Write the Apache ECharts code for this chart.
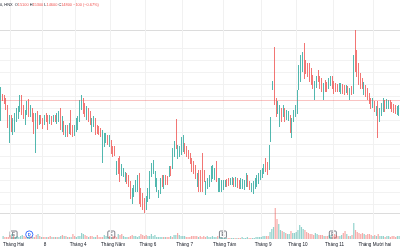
<!DOCTYPE html>
<html><head><meta charset="utf-8">
<script src="https://cdn.jsdelivr.net/npm/echarts@6/dist/echarts.min.js"></script>
<style>html,body{margin:0;padding:0;background:#fff}#c{width:400px;height:250px}</style>
</head><body><div id="c"></div>
<script>
const opens=[14400,14880,14860,14800,14640,14100,14460,14140,14200,14400,
14460,14600,14860,14660,14340,14540,14800,14500,14600,14500,
14300,14540,14340,14460,14400,14340,14500,14460,14360,14440,
14400,14460,14360,14400,14600,14200,14340,14100,14260,14160,
14560,14260,14120,14200,14240,14400,14640,14800,14700,14440,
14600,14540,14200,14300,14400,14260,14240,14200,14000,13900,
13980,14060,13900,13960,13840,13840,13340,13600,13640,13320,
13300,13200,13300,13260,13140,12760,12900,13000,13000,13300,
13000,12900,12800,12640,12800,12860,13300,13360,13100,13000,
12880,12960,13260,13060,13260,13240,13300,13440,13460,13700,
14400,13660,13700,13740,13800,13900,13840,13760,13700,13600,
13540,13460,13100,13360,13300,13400,13360,12940,13060,13100,
13200,13260,13240,13540,13000,13000,13000,13040,13100,13180,
13200,13140,13140,13200,13100,13200,13160,13060,13060,13040,
13100,13260,13140,13000,12960,13060,13100,13160,13240,13280,
13360,13600,13520,13440,14000,15040,15360,14800,14560,14300,
14600,14500,14600,14440,14420,14460,14200,14400,14500,14560,
15040,15200,15400,15900,15560,15500,15500,15400,15260,14900,
15080,15360,15240,15200,14840,15160,15120,15060,15120,15240,
15140,15100,15080,15000,14960,15080,15060,14980,15040,14900,
15040,14960,15700,15760,15500,15300,15200,14940,15060,15000,
14900,14800,14680,14740,14520,14740,14400,14520,14600,14760,
14660,14660,14760,14720,14680,14660,14540,14520];
const closes=[14840,14800,14760,14640,14300,14400,14200,14400,14500,14600,
14640,14860,14540,14460,14560,14740,14500,14660,14400,14160,
14500,14260,14460,14360,14260,14460,14400,14240,14460,14340,
14460,14400,14500,14540,14240,14440,14140,14260,14140,14300,
14140,14100,14260,14400,14440,14700,14880,14560,14500,14640,
14400,14340,14400,14440,14140,14160,14140,14100,14160,14100,
14100,13940,14060,13760,13700,13720,13540,13360,13260,13480,
13400,13320,13160,13100,12860,13000,13060,13160,13260,12760,
12700,12640,12560,12840,13000,13340,13440,13540,13340,13200,
12960,13200,13100,13260,13140,13140,13440,13320,13800,13940,
13860,13860,13840,13940,14000,13760,13700,13660,13560,13400,
13360,13260,13300,13000,13160,13200,13200,13140,13200,13260,
13440,13440,13400,13200,13200,13200,13160,13160,13160,13100,
13120,13200,13220,13100,13220,13080,13060,13200,13180,13160,
13300,13100,13040,13100,13140,13200,13260,13300,13360,13400,
13480,13400,13340,13860,14400,15140,14740,14600,14740,14660,
14400,14660,14400,14560,14540,14200,14400,14560,14660,14960,
15360,15600,15700,15260,15360,15300,15200,15140,15060,15140,
15240,15200,15060,15000,15100,15000,15000,15200,15240,15060,
14960,15000,15000,15100,15100,14960,14940,15060,14940,15000,
14940,15660,15400,15300,15140,15060,15060,15120,14900,14840,
14760,14660,14800,14600,14640,14400,14600,14700,14800,14600,
14780,14760,14660,14600,14580,14560,14640,14660];
const lows=[14380,14780,14720,14600,14240,13940,14160,14100,14160,14360,
14420,14560,14500,14420,14300,14500,14460,14460,14360,14120,
13740,14220,14300,14320,14220,14300,14360,14200,14320,14300,
14360,14360,14320,14360,14200,14160,14100,14060,14060,14120,
14100,14060,14080,14160,14200,14360,14600,14520,14460,14400,
14360,14300,14160,14260,14100,14120,14100,14060,13540,13860,
13940,13900,13860,13720,13660,13680,13300,13320,13160,13280,
13260,13160,13120,13060,12820,12720,12860,12960,12960,12720,
12660,12600,12540,12600,12760,12820,13260,13320,13060,12960,
12840,12920,13060,13020,13100,13100,13260,13280,13420,13660,
13820,13620,13660,13700,13760,13720,13660,13620,13520,13360,
13320,13220,13060,12960,12960,12960,13160,12900,13020,13060,
13160,13220,13200,13160,12960,12960,12960,13000,13060,13060,
13080,13100,13100,13060,13060,13040,13020,13020,13020,13000,
13060,13060,13000,12960,12920,13020,13060,13120,13200,13240,
13320,13360,13300,13400,13960,15000,14700,14460,14520,14260,
14360,14460,14360,14400,14380,14140,14040,14360,14460,14520,
15000,15160,15360,15220,15320,15260,15160,15100,15020,14800,
15040,15160,15020,14960,14800,14960,14960,15020,15080,15020,
14920,14960,14960,14960,14920,14920,14900,14940,14900,14800,
14900,14920,15360,15260,15100,15020,15020,14900,14860,14800,
14720,14620,14640,14560,14480,14040,14360,14480,14560,14560,
14620,14620,14620,14560,14540,14520,14500,14480];
const highs=[15060,14920,14900,14840,14700,14500,14500,14440,14540,14640,
14680,14900,14900,14700,14600,14780,14820,14700,14640,14540,
14540,14580,14500,14500,14440,14500,14540,14500,14500,14480,
14500,14500,14540,14580,14640,14480,14380,14300,14300,14340,
14600,14300,14300,14440,14480,14800,14900,14840,14740,14680,
14640,14580,14440,14480,14440,14300,14280,14240,14200,14140,
14140,14100,14100,14000,13880,13880,13580,13640,13680,13520,
13440,13360,13340,13300,13180,13040,13100,13200,13300,13340,
13040,12940,12840,12880,13040,13380,13540,13600,13380,13240,
13000,13240,13300,13300,13300,13280,13480,13480,13840,13980,
14420,13900,13880,14060,14100,13940,13880,13800,13740,13640,
13580,13500,13340,13400,13400,13740,13400,13180,13240,13300,
13480,13500,13440,13580,13240,13240,13200,13200,13200,13220,
13240,13240,13260,13240,13260,13240,13200,13240,13220,13200,
13340,13300,13180,13140,13180,13240,13300,13340,13400,13440,
13520,13640,13560,13900,14460,15180,15860,14840,14780,14700,
14640,14700,14640,14600,14580,14500,14440,14600,14700,15000,
15500,15700,15760,15940,15600,15540,15540,15440,15300,15180,
15280,15400,15280,15240,15140,15200,15160,15240,15280,15280,
15180,15140,15120,15140,15140,15120,15100,15100,15080,15040,
15080,15700,16200,15800,15540,15340,15240,15160,15100,15040,
14940,14840,14840,14780,14680,14780,14640,14740,14840,14800,
14820,14800,14800,14760,14720,14700,14680,14700];
const volumes=[150,100,100,100,200,250,150,100,150,100,
150,200,150,100,100,150,150,100,100,200,
250,150,100,100,100,100,100,150,100,100,
100,100,100,150,200,150,150,100,100,100,
250,150,100,150,150,300,250,200,150,100,
150,150,100,100,200,100,100,100,200,150,
100,150,100,150,150,100,250,200,250,150,
100,100,100,150,200,150,150,100,150,250,
200,150,200,150,150,250,150,200,100,100,
100,100,100,100,100,100,150,100,200,200,
300,200,150,150,150,100,100,100,150,150,
150,150,100,150,100,150,100,150,100,100,
150,100,100,150,100,100,50,50,50,50,
50,50,50,50,50,50,50,100,50,50,
100,50,50,50,50,100,100,100,100,150,
150,150,150,350,500,600,1550,1000,750,450,
400,350,300,250,250,400,300,300,350,450,
700,600,500,450,350,300,250,250,200,300,
250,200,200,200,150,150,150,200,200,150,
250,200,150,150,200,300,400,250,150,150,
200,800,450,350,300,250,300,250,200,250,
250,200,150,200,150,250,150,150,150,100,
150,150,100,150,150,100,150,150];
const tickIdx=[6,24,43,63,83,104,127,149,169,190,213];
const tickText=["Tháng Hai","8","Tháng 4","Tháng Năm","Tháng 6","Tháng 7","Tháng Tám","Tháng 9","Tháng 10","Tháng 11","Tháng Mười hai"];
const earningsIdx=[6,62,126,189];
const dividendIdx=[15];
const symbolText="0, HNX";
const legendKeys=["O","H","L","C"];
const legendVals=[15100,15300,14600,14800];
const legendChange="−100 (−0.67%)";
const lastPrice=14800;

const N=Math.min(opens.length,closes.length,lows.length,highs.length,volumes.length);
const days=[];for(let i=0;i<N;i++)days.push(String(i));
const UP='#26a69a',DN='#ef5350';
const candles=[];const vols=[];
for(let i=0;i<N;i++){
  candles.push([opens[i],closes[i],lows[i],highs[i]]);
  vols.push({value:volumes[i],itemStyle:{color:closes[i]>=opens[i]?'rgba(38,166,154,0.5)':'rgba(239,83,80,0.5)'}});
}
const FONT='"Liberation Sans", Arial, sans-serif';
const FS=3.9;
let legendStr='{s|'+symbolText+'}  ';
legendKeys.forEach((k,j)=>{legendStr+='{k|'+k+'}{v|'+legendVals[j]+'} ';});
legendStr+='{v|'+legendChange+'}';

const chart=echarts.init(document.getElementById('c'),null,{renderer:'canvas'});
const baseGraphic=[
  {id:'topLine',type:'line',shape:{x1:0,y1:30.5,x2:400,y2:30.5},style:{stroke:'#dcdcdc',lineWidth:1},z:0},
  {id:'botLine',type:'line',shape:{x1:0,y1:213.5,x2:400,y2:213.5},style:{stroke:'#dcdcdc',lineWidth:1},z:0},
  {id:'legend',type:'text',left:0,top:3,z:10,style:{text:legendStr,font:FS+'px '+FONT,
    rich:{s:{fill:'#131722',fontSize:FS,fontFamily:FONT},k:{fill:'#131722',fontSize:FS,fontFamily:FONT},v:{fill:'#ef5350',fontSize:FS,fontFamily:FONT}}}}
];
chart.setOption({
  animation:false,
  backgroundColor:'#ffffff',
  grid:[
    {left:0,right:0,top:48,height:156},
    {left:0,right:0,top:200,height:39},
    {left:0,right:0,top:0,height:239}
  ],
  xAxis:[
    {type:'category',gridIndex:0,data:days,boundaryGap:true,axisLine:{show:false},axisTick:{show:false},axisLabel:{show:false},splitLine:{show:false}},
    {type:'category',gridIndex:1,data:days,boundaryGap:true,axisLine:{show:false},axisTick:{show:false},splitLine:{show:false},
      axisLabel:{show:true,fontSize:4.6,color:'#131722',fontFamily:FONT,margin:3,
        interval:(idx)=>tickIdx.indexOf(idx)>=0,
        formatter:(v,idx)=>{const k=tickIdx.indexOf(idx);return k>=0?tickText[k]:'';}}},
    {type:'category',gridIndex:2,data:days,boundaryGap:true,axisLine:{show:false},axisTick:{show:false},axisLabel:{show:false},
      splitLine:{show:true,interval:(idx)=>tickIdx.indexOf(idx)>=0,lineStyle:{color:'#f1f1f1',width:1}}}
  ],
  yAxis:[
    {type:'value',gridIndex:0,min:12720,max:15840,interval:240,axisLine:{show:false},axisTick:{show:false},axisLabel:{show:false},
      splitLine:{show:true,lineStyle:{color:'#f2f2f2',width:1}}},
    {type:'value',gridIndex:1,min:0,max:1950,show:false,splitLine:{show:false}},
    {type:'value',gridIndex:2,min:0,max:1,show:false,splitLine:{show:false}}
  ],
  series:[
    {type:'bar',xAxisIndex:1,yAxisIndex:1,data:vols,barWidth:1.2,z:1},
    {type:'candlestick',xAxisIndex:0,yAxisIndex:0,data:candles,barWidth:1,clip:false,z:3,
      itemStyle:{color:UP,color0:DN,borderColor:UP,borderColor0:DN,borderWidth:0.8},
      markLine:{silent:true,symbol:['none','none'],label:{show:false},
        lineStyle:{color:'rgba(239,83,80,0.35)',type:'solid',width:1},
        data:[{yAxis:lastPrice}]}}
  ],
  graphic:baseGraphic
});
const icons=[];
earningsIdx.forEach((i,j)=>{
  const x=chart.convertToPixel({xAxisIndex:1},String(i));
  icons.push({id:'earn'+j,type:'group',x:x,y:234.5,z:20,children:[
    {type:'rect',shape:{x:-3.5,y:-3.5,width:7,height:7,r:1},style:{fill:'#ffffff',stroke:'#5d606b',lineWidth:0.8}},
    {type:'text',style:{text:'E',x:0,y:0,align:'center',verticalAlign:'middle',font:'bold 4.5px '+FONT,fill:'#5d606b'}}
  ]});
});
dividendIdx.forEach((i,j)=>{
  const x=chart.convertToPixel({xAxisIndex:1},String(i));
  icons.push({id:'div'+j,type:'group',x:x,y:234.5,z:20,children:[
    {type:'circle',shape:{cx:0,cy:0,r:3.6},style:{fill:'#ffffff',stroke:'#2962ff',lineWidth:0.9}},
    {type:'text',style:{text:'D',x:0,y:0,align:'center',verticalAlign:'middle',font:'bold 4.2px '+FONT,fill:'#2962ff'}}
  ]});
});
chart.setOption({graphic:baseGraphic.concat(icons)});
</script>
</body></html>
